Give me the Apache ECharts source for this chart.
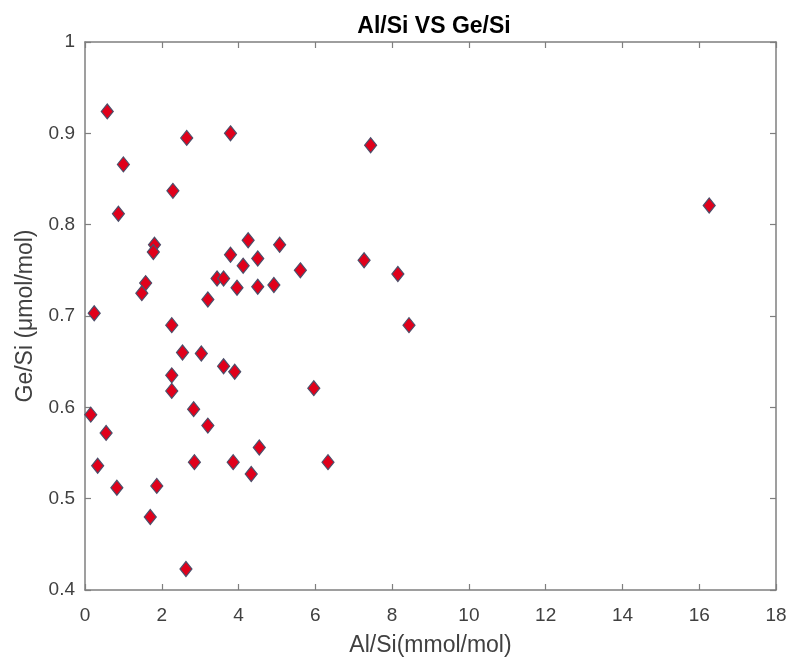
<!DOCTYPE html>
<html>
<head>
<meta charset="utf-8">
<script src="https://cdn.jsdelivr.net/npm/echarts@6/dist/echarts.min.js"></script>
<style>html,body{margin:0;padding:0;background:#fff}#c{width:792px;height:662px}</style>
</head>
<body>
<div id="c"></div>
<script>
const alSi = [0.58,1.0,0.87,2.65,3.79,7.44,2.29,1.81,1.78,1.58,1.48,0.24,2.26,3.2,3.44,3.61,3.96,3.79,4.12,4.25,4.50,4.50,4.92,5.07,5.61,7.27,8.15,8.44,16.26,2.54,3.03,3.61,3.90,2.26,2.26,5.96,0.15,2.83,3.2,0.55,0.33,2.85,3.86,4.54,4.33,6.33,0.83,1.87,1.70,2.63];
const geSi = [0.924,0.866,0.812,0.895,0.900,0.887,0.837,0.778,0.770,0.736,0.725,0.703,0.690,0.718,0.741,0.741,0.731,0.767,0.755,0.783,0.763,0.732,0.734,0.778,0.750,0.761,0.746,0.690,0.821,0.660,0.659,0.645,0.639,0.635,0.618,0.621,0.592,0.598,0.580,0.572,0.536,0.540,0.540,0.556,0.527,0.540,0.512,0.514,0.480,0.423];
const titleText = 'Al/Si VS Ge/Si';
const xName = 'Al/Si(mmol/mol)';
const yName = 'Ge/Si (μmol/mol)';

const data = alSi.map((x, i) => [x, geSi[i]]);
const axisColor = '#7f7f7f';
const labelColor = '#404040';
const font = 'Liberation Sans, Arial, sans-serif';

const chart = echarts.init(document.getElementById('c'), null, {renderer: 'canvas'});
const baseX = {
  type: 'value', min: 0, max: 18, interval: 2,
  axisLine: {show: true, onZero: false, lineStyle: {color: axisColor, width: 1.5}},
  axisTick: {show: true, inside: true, length: 6, lineStyle: {color: axisColor, width: 1.2}},
  splitLine: {show: false}
};
const baseY = {
  type: 'value', min: 0.4, max: 1.0, interval: 0.1,
  axisLine: {show: true, onZero: false, lineStyle: {color: axisColor, width: 1.5}},
  axisTick: {show: true, inside: true, length: 6, lineStyle: {color: axisColor, width: 1.2}},
  splitLine: {show: false}
};
chart.setOption({
  backgroundColor: '#ffffff',
  animation: false,
  title: {
    text: titleText, left: 429, top: 10, textAlign: 'center',
    textStyle: {fontFamily: font, fontSize: 23, fontWeight: 'bold', color: '#000'}
  },
  grid: {left: 85, right: 16, top: 42, bottom: 72},
  xAxis: [
    Object.assign({}, baseX, {
      position: 'bottom',
      name: xName, nameLocation: 'middle', nameGap: 44,
      nameTextStyle: {fontFamily: font, fontSize: 23, color: labelColor},
      axisLabel: {fontFamily: font, fontSize: 19, color: labelColor, margin: 16,
        formatter: v => String(v)}
    }),
    Object.assign({}, baseX, {position: 'top', axisLabel: {show: false}})
  ],
  yAxis: [
    Object.assign({}, baseY, {
      position: 'left',
      name: yName, nameLocation: 'middle', nameGap: 48, nameRotate: 90,
      nameTextStyle: {fontFamily: font, fontSize: 23, color: labelColor},
      axisLabel: {fontFamily: font, fontSize: 19, color: labelColor, margin: 10,
        formatter: v => (Math.abs(v - 1) < 1e-9 ? '1' : v.toFixed(1))}
    }),
    Object.assign({}, baseY, {position: 'right', axisLabel: {show: false}})
  ],
  series: [{
    type: 'scatter',
    data: data,
    symbol: 'diamond',
    symbolSize: [12, 15],
    itemStyle: {color: '#e0001b', borderColor: '#4b4f6b', borderWidth: 1.2, opacity: 1}
  }]
});
</script>
</body>
</html>
